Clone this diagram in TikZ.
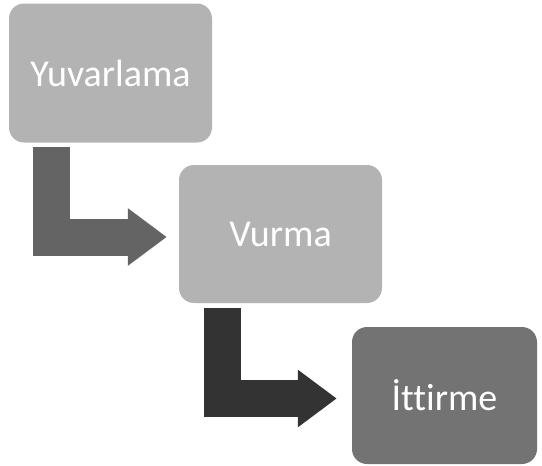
\documentclass[tikz,border=0pt]{standalone}
\usepackage{fontspec}
\setmainfont{Carlito}[Ligatures={NoCommon}]
\usetikzlibrary{arrows.meta}
\definecolor{lightbox}{RGB}{179,179,179}
\definecolor{midbox}{RGB}{115,115,115}
\definecolor{midarrow}{RGB}{100,100,100}
\definecolor{darkarrow}{RGB}{51,51,51}
\tikzstyle{stage} = [
    rectangle,
    rounded corners=15pt,
    minimum width=203pt,
    minimum height=139pt,
    text=white,
    font=\fontsize{38}{44}\selectfont
]
\tikzstyle{bent} = [
    line width=37pt,
    -{Triangle[length=39pt,width=55pt]}
]

\begin{document}
\begin{tikzpicture}[x=1pt,y=1pt]
\useasboundingbox (0,0) rectangle (542,-466);

\node (roll) [stage, fill=lightbox] at (110.5,-73) {Yuvarlama};

\node (hit) [stage, fill=lightbox, minimum height=138pt] at (280.5,-234) {Vurma};

\node (push) [stage, fill=midbox, minimum width=185pt, minimum height=137pt]
    at (444.5,-395.5) {İttirme};

\draw [bent, midarrow] ([xshift=-59pt,yshift=-4pt]roll.south)
    |- ([xshift=-12pt,yshift=-3pt]hit.west);
\draw [bent, darkarrow] ([xshift=-58.5pt,yshift=-5pt]hit.south)
    |- ([xshift=-15pt,yshift=-3pt]push.west);

\end{tikzpicture}
\end{document}
